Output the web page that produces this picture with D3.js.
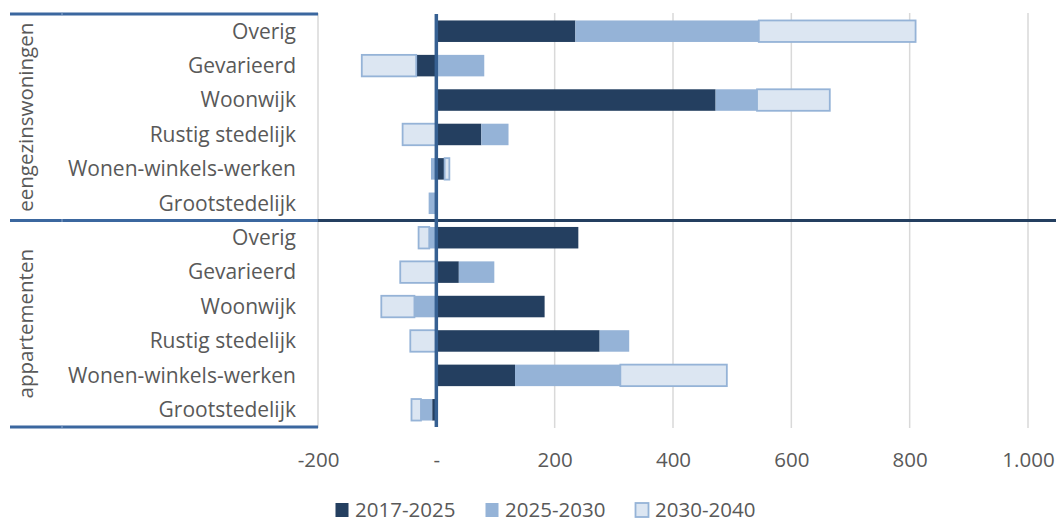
<!DOCTYPE html>
<html>
<head>
<meta charset="utf-8">
<script src="https://cdn.jsdelivr.net/npm/d3@7"></script>
<style>
  html, body { margin: 0; padding: 0; background: #fff; }
  svg { display: block; }
  text { font-family: "Open Sans", "Liberation Sans", sans-serif; fill: #595959; }
</style>
</head>
<body>
<svg id="chart" width="1060" height="523"></svg>
<script>
// Woningbehoefte per woonmilieu en periode
const groups = ["eengezinswoningen", "appartementen"];
const categories = ["Overig", "Gevarieerd", "Woonwijk", "Rustig stedelijk", "Wonen-winkels-werken", "Grootstedelijk"];
const periods = ["2017-2025", "2025-2030", "2030-2040"];
const xTicks = [-200, 0, 200, 400, 600, 800, 1000];

// eengezinswoningen, same order as categories
const eengezins_2017_2025 = [235, -34, 472, 76, 14, 0];
const eengezins_2025_2030 = [310, 81, 70, 46, -9, -13];
const eengezins_2030_2040 = [265, -92, 123, -57, 8, 0];

// appartementen, same order as categories
const appartementen_2017_2025 = [240, 38, 183, 276, 133, -7];
const appartementen_2025_2030 = [-12, 60, -37, 50, 178, -19];
const appartementen_2030_2040 = [-18, -61, -56, -44, 180, -16];

const seriesByGroup = {
  "eengezinswoningen": [eengezins_2017_2025, eengezins_2025_2030, eengezins_2030_2040],
  "appartementen": [appartementen_2017_2025, appartementen_2025_2030, appartementen_2030_2040]
};

const fills = ["#243F60", "#95B3D7", "#DCE6F2"];
const strokes = ["none", "none", "#95B3D7"];

// one row per group/category pair
const rows = [];
groups.forEach(g => categories.forEach((c, i) => {
  const row = { key: g + "|" + c, group: g, category: c };
  periods.forEach((p, k) => { row[p] = seriesByGroup[g][k][i]; });
  rows.push(row);
}));

const svg = d3.select("#chart");
const plot = { left: 318, right: 1028, top: 14, bottom: 427 };

const x = d3.scaleLinear().domain([-200, 1000]).range([plot.left, plot.right]);
const y = d3.scaleBand()
  .domain(rows.map(d => d.key))
  .range([plot.top, plot.bottom])
  .paddingInner(0.375)
  .paddingOuter(0.1875);

const nl = d3.formatLocale({ decimal: ",", thousands: ".", grouping: [3], currency: ["€", ""], minus: "-" });
const fmt = nl.format(",d");

// vertical gridlines
svg.append("g").selectAll("line")
  .data(xTicks.filter(t => t !== 0))
  .join("line")
  .attr("x1", d => x(d)).attr("x2", d => x(d))
  .attr("y1", plot.top - 1).attr("y2", plot.bottom + 1)
  .attr("stroke", "#D9D9D9").attr("stroke-width", 1.5);

// x axis labels
const xAxis = d3.axisBottom(x)
  .tickValues(xTicks)
  .tickSize(0)
  .tickPadding(0)
  .tickFormat(d => d === 0 ? "-" : fmt(d));
const gx = svg.append("g").attr("transform", `translate(0,${plot.bottom})`).call(xAxis);
gx.select(".domain").remove();
gx.selectAll("text")
  .attr("y", 40).attr("dy", null)
  .attr("font-size", 20.5)
  .attr("font-family", "'Open Sans', sans-serif")
  .attr("fill", "#595959");

// stacked bars, negatives stacked to the left of zero
const stack = d3.stack().keys(periods).offset(d3.stackOffsetDiverging);
const layers = stack(rows);

const barGroups = svg.append("g").selectAll("g")
  .data(layers)
  .join("g")
  .attr("fill", (d, i) => fills[i])
  .attr("stroke", (d, i) => strokes[i])
  .attr("stroke-width", 1.8);

barGroups.selectAll("rect")
  .data(d => d.filter(s => s[1] - s[0] !== 0))
  .join("rect")
  .attr("x", d => x(Math.min(d[0], d[1])))
  .attr("width", d => Math.abs(x(d[1]) - x(d[0])))
  .attr("y", d => y(d.data.key))
  .attr("height", y.bandwidth());

// group separators
const sepY = (plot.top + plot.bottom) / 2;
const lineColor = "#3B679F";
[plot.top, sepY, plot.bottom].forEach(v => {
  svg.append("line")
    .attr("x1", 10).attr("x2", plot.left)
    .attr("y1", v).attr("y2", v)
    .attr("stroke", lineColor).attr("stroke-width", 3);
});
svg.append("line")
  .attr("x1", plot.left).attr("x2", 1056)
  .attr("y1", sepY).attr("y2", sepY)
  .attr("stroke", "#243F60").attr("stroke-width", 3);
// small tick marks between group column and category column
[plot.top, sepY, plot.bottom].forEach(v => {
  svg.append("line")
    .attr("x1", 62).attr("x2", 62)
    .attr("y1", v - 1.5).attr("y2", v + 1.5)
    .attr("stroke", "#8EA9CC").attr("stroke-width", 1);
});

// zero axis line
svg.append("line")
  .attr("x1", x(0)).attr("x2", x(0))
  .attr("y1", plot.top).attr("y2", plot.bottom)
  .attr("stroke", "#366092").attr("stroke-width", 3.5);

// category labels
svg.append("g").selectAll("text")
  .data(rows)
  .join("text")
  .attr("x", 296)
  .attr("y", d => y(d.key) + y.bandwidth() / 2)
  .attr("dy", "0.35em")
  .attr("text-anchor", "end")
  .attr("font-size", 21)
  .text(d => d.category);

// group labels (rotated)
groups.forEach((g, gi) => {
  const top = gi === 0 ? plot.top : sepY;
  const bottom = gi === 0 ? sepY : plot.bottom;
  svg.append("text")
    .attr("transform", `translate(33,${(top + bottom) / 2}) rotate(-90)`)
    .attr("text-anchor", "middle")
    .attr("font-size", 20.5)
    .text(g);
});

// legend
const legend = svg.append("g").selectAll("g")
  .data(periods)
  .join("g")
  .attr("transform", (d, i) => `translate(${335 + i * 150},0)`);
legend.append("rect")
  .attr("x", 0.5).attr("y", 503)
  .attr("width", 13).attr("height", 14)
  .attr("fill", (d, i) => fills[i])
  .attr("stroke", (d, i) => strokes[i])
  .attr("stroke-width", 1.8);
legend.append("text")
  .attr("x", 20).attr("y", 517)
  .attr("font-size", 20.5)
  .text(d => d);
</script>
</body>
</html>
